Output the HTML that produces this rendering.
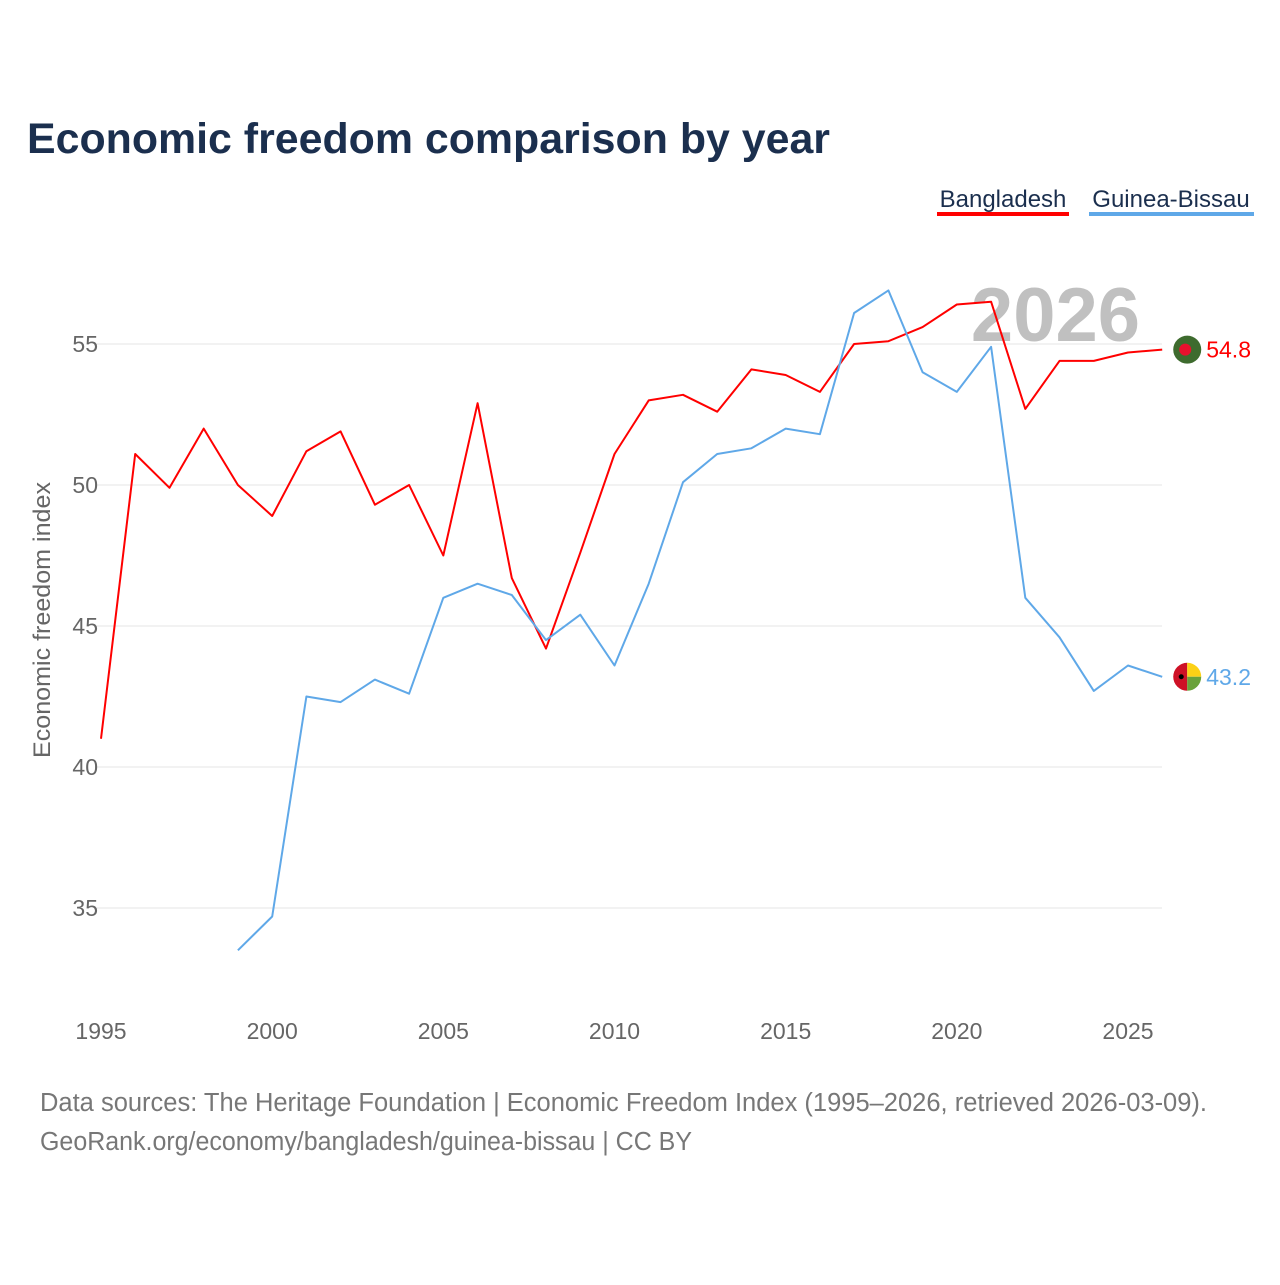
<!DOCTYPE html>
<html><head><meta charset="utf-8">
<style>
html,body{margin:0;padding:0;background:#fff;}
body{width:1280px;height:1280px;position:relative;overflow:hidden;font-family:"Liberation Sans",sans-serif;}
svg text{font-family:"Liberation Sans",sans-serif;}
</style></head>
<body>
<svg id="chart" width="1280" height="1280" viewBox="0 0 1280 1280" xmlns="http://www.w3.org/2000/svg">
<text x="27" y="153" font-size="42.5" font-weight="bold" fill="#1b2f4e" textLength="803" lengthAdjust="spacingAndGlyphs">Economic freedom comparison by year</text>
<g>
<text x="1003" y="207" font-size="24" fill="#1b2f4e" text-anchor="middle">Bangladesh</text>
<rect x="937" y="212" width="132" height="4" fill="#ff0000"/>
<text x="1171" y="207" font-size="24" fill="#1b2f4e" text-anchor="middle">Guinea-Bissau</text>
<rect x="1089" y="212" width="165" height="4" fill="#5fa8e8"/>
</g>
<text x="1140" y="341" font-size="76" font-weight="bold" fill="#c0c0c0" text-anchor="end">2026</text>
<g id="grid"></g>
<g id="yticks"></g>
<g id="xticks"></g>
<text transform="translate(50,620) rotate(-90)" font-size="24.5" fill="#666" text-anchor="middle" textLength="276" lengthAdjust="spacingAndGlyphs">Economic freedom index</text>
<g id="series"></g>
<text x="40" y="1111" font-size="25.5" fill="#777" textLength="1167" lengthAdjust="spacingAndGlyphs">Data sources: The Heritage Foundation | Economic Freedom Index (1995–2026, retrieved 2026-03-09).</text>
<text x="40" y="1150" font-size="25.5" fill="#777" textLength="652" lengthAdjust="spacingAndGlyphs">GeoRank.org/economy/bangladesh/guinea-bissau | CC BY</text>
</svg>
<script>
const years = [1995,1996,1997,1998,1999,2000,2001,2002,2003,2004,2005,2006,2007,2008,2009,2010,2011,2012,2013,2014,2015,2016,2017,2018,2019,2020,2021,2022,2023,2024,2025,2026];
const bangladesh = [41.0,51.1,49.9,52.0,50.0,48.9,51.2,51.9,49.3,50.0,47.5,52.9,46.7,44.2,47.6,51.1,53.0,53.2,52.6,54.1,53.9,53.3,55.0,55.1,55.6,56.4,56.5,52.7,54.4,54.4,54.7,54.8];
const guineaBissau = [null,null,null,null,33.5,34.7,42.5,42.3,43.1,42.6,46.0,46.5,46.1,44.5,45.4,43.6,46.5,50.1,51.1,51.3,52.0,51.8,56.1,56.9,54.0,53.3,54.9,46.0,44.6,42.7,43.6,43.2];
const yTicks = [35,40,45,50,55];
const xTicks = [1995,2000,2005,2010,2015,2020,2025];

const NS="http://www.w3.org/2000/svg";
const x = yr => 101 + (yr-1995)*(1027/30);
const y = v => 344 + (55-v)*28.2;
function mk(tag,attrs,parent){const e=document.createElementNS(NS,tag);for(const k in attrs)e.setAttribute(k,attrs[k]);parent.appendChild(e);return e;}
const grid=document.getElementById('grid'),yt=document.getElementById('yticks'),xt=document.getElementById('xticks'),ser=document.getElementById('series');
yTicks.forEach(v=>{
  const l=mk('line',{x1:95,x2:1162,y1:y(v),y2:y(v),stroke:'#e6e6e6','stroke-width':1},grid);
  
  
  const t=mk('text',{x:98,y:y(v)+8,'font-size':23,fill:'#666','text-anchor':'end'},yt);
  t.textContent=v;
  
  
});
xTicks.forEach(v=>{
  const t=mk('text',{x:x(v),y:1039,'font-size':23,fill:'#666','text-anchor':'middle'},xt);
  t.textContent=v;
  
  
});
function line(vals,color,name){
  let d='';vals.forEach((v,i)=>{if(v==null)return;d+=(d?'L':'M')+x(years[i]).toFixed(1)+','+y(v).toFixed(1);});
  const p=mk('path',{d:d,fill:'none',stroke:color,'stroke-width':2,'stroke-linejoin':'round'},ser);
  
  
}
line(bangladesh,'#ff0000','bangladesh');
line(guineaBissau,'#5fa8e8','guinea-bissau');
const bl=bangladesh[bangladesh.length-1], gl=guineaBissau[guineaBissau.length-1], lx=x(2026)+25;
const g1=mk('g',{},ser);


mk('circle',{cx:lx,cy:y(bl),r:14,fill:'#3e6b2e'},g1);
mk('circle',{cx:lx-2,cy:y(bl),r:6,fill:'#e8112d'},g1);
const t1=mk('text',{x:lx+19,y:y(bl)+8,'font-size':23,fill:'#ff0000'},ser);
t1.textContent=bl.toFixed(1);


const g2=mk('g',{},ser);


const cy=y(gl);
mk('path',{d:`M${lx},${cy-14} A14,14 0 0 0 ${lx},${cy+14} Z`,fill:'#ce1126'},g2);
mk('path',{d:`M${lx},${cy-14} A14,14 0 0 1 ${lx+14},${cy} L${lx},${cy} Z`,fill:'#fcd116'},g2);
mk('path',{d:`M${lx},${cy} L${lx+14},${cy} A14,14 0 0 1 ${lx},${cy+14} Z`,fill:'#6aa23a'},g2);
mk('circle',{cx:lx-6,cy:cy,r:2.5,fill:'#000'},g2);
const t2=mk('text',{x:lx+19,y:cy+8,'font-size':23,fill:'#5fa8e8'},ser);
t2.textContent=gl.toFixed(1);


</script>
</body></html>
